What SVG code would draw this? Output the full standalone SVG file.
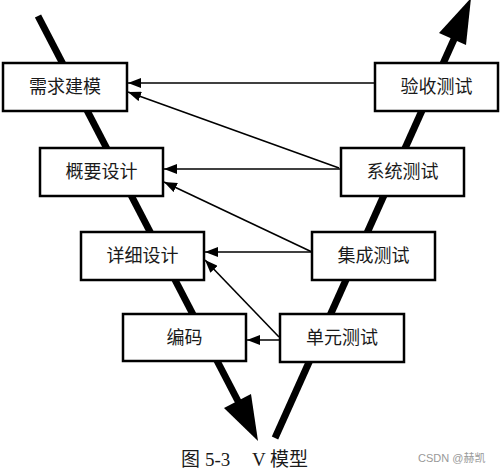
<svg xmlns="http://www.w3.org/2000/svg" width="502" height="472" viewBox="0 0 502 472">
<style>
.box rect{fill:#fff;stroke:#000;stroke-width:2.5}
.box text{font-family:"Noto Sans CJK SC","Liberation Sans",sans-serif;font-size:18px;fill:#1a1a1a;text-anchor:middle}
.thick{stroke:#000;stroke-width:7;fill:none;stroke-linecap:butt}
.conn line{stroke:#000;stroke-width:1.6;marker-end:url(#ah)}
.cap{font-family:"Liberation Serif","Noto Sans CJK SC",serif;font-size:19px;fill:#1a1a1a}
</style>
<defs>
<marker id="ah" markerUnits="userSpaceOnUse" markerWidth="14" markerHeight="10" refX="13" refY="5" orient="auto">
<path d="M0,0 L13,5 L0,10 z" fill="#000"/>
</marker>
</defs>
<rect width="502" height="472" fill="#fff"/>
<g id="v-shape">
<line class="thick" x1="38" y1="16" x2="240" y2="405"/>
<polygon points="224,408 251,394 258,441" fill="#000"/>
<line class="thick" x1="275" y1="438" x2="455" y2="37"/>
<polygon points="439,33 466,45 471,-2" fill="#000"/>
</g>
<g id="connectors" class="conn">
<line x1="375" y1="83" x2="128" y2="83"/>
<line x1="339" y1="168" x2="128" y2="92"/>
<line x1="341" y1="169" x2="164" y2="169"/>
<line x1="312" y1="252" x2="164" y2="182"/>
<line x1="312" y1="252" x2="205" y2="252"/>
<line x1="279" y1="337" x2="205" y2="260"/>
<line x1="280" y1="340" x2="247" y2="340"/>
</g>
<g id="n1" class="box"><rect x="3" y="63" width="124" height="48"/><text x="65" y="93">需求建模</text></g>
<g id="n2" class="box"><rect x="40" y="148" width="123" height="48"/><text x="101.5" y="178">概要设计</text></g>
<g id="n3" class="box"><rect x="81" y="232" width="123" height="48"/><text x="142.5" y="262">详细设计</text></g>
<g id="n4" class="box"><rect x="123" y="314" width="123" height="47"/><text x="184.5" y="344">编码</text></g>
<g id="n5" class="box"><rect x="375" y="63" width="123" height="48"/><text x="436.5" y="93">验收测试</text></g>
<g id="n6" class="box"><rect x="341" y="148" width="123" height="48"/><text x="402.5" y="178">系统测试</text></g>
<g id="n7" class="box"><rect x="312" y="232" width="123" height="48"/><text x="373.5" y="262">集成测试</text></g>
<g id="n8" class="box"><rect x="280" y="314" width="124" height="48"/><text x="342" y="344">单元测试</text></g>
<text class="cap" x="181" y="466">图</text>
<text class="cap" x="205" y="466">5-3</text>
<text class="cap" x="252" y="466">V</text>
<text class="cap" x="270" y="466">模型</text>
<text x="418" y="462" font-family="'Liberation Sans','Noto Sans CJK SC',sans-serif" font-size="11" fill="#999">CSDN @赫凯</text>
</svg>
